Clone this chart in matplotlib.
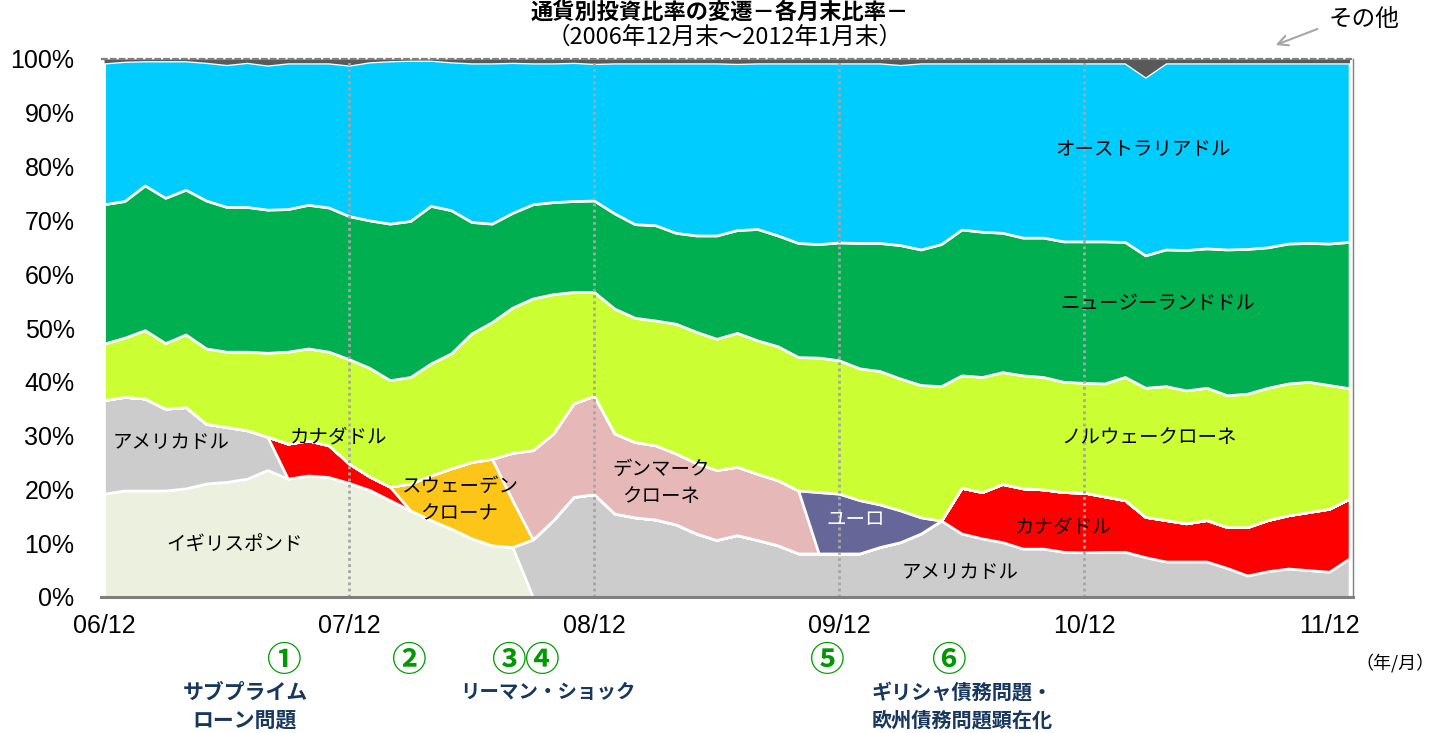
import numpy as np
import pandas as pd
import matplotlib
matplotlib.use('Agg')
import matplotlib.pyplot as plt

plt.rcParams['font.family'] = ['Noto Sans CJK JP', 'DejaVu Sans']

# ---------------- data (% of portfolio, month-end) ----------------
months = pd.date_range('2006-12-31', periods=62, freq='ME').strftime('%y/%m').tolist()
tick_labels = ['06/12', '07/12', '08/12', '09/12', '10/12', '11/12']
ytick_values = [0, 10, 20, 30, 40, 50, 60, 70, 80, 90, 100]

GBP = [19.2, 19.8, 19.8, 19.8, 20.2, 21.1, 21.4, 22.0, 23.6, 22.0,
       22.6, 22.3, 21.2, 19.9, 18.0, 16.1, 14.3, 12.7, 10.9, 9.6,
       9.3, 0, 0, 0, 0, 0, 0, 0, 0, 0,
       0, 0, 0, 0, 0, 0, 0, 0, 0, 0,
       0, 0, 0, 0, 0, 0, 0, 0, 0, 0,
       0, 0, 0, 0, 0, 0, 0, 0, 0, 0,
       0, 0]
USD = [17.4, 17.4, 17.1, 15.2, 15.1, 11.1, 10.2, 9.0, 6.2, 0,
       0, 0, 0, 0, 0, 0, 0, 0, 0, 0,
       0, 10.7, 14.3, 18.6, 19.1, 15.5, 14.8, 14.4, 13.5, 11.8,
       10.6, 11.5, 10.6, 9.6, 8.1, 8.1, 8.1, 8.1, 9.3, 10.2,
       11.8, 14.2, 11.8, 10.9, 10.2, 9.0, 9.0, 8.4, 8.3, 8.4,
       8.4, 7.4, 6.6, 6.6, 6.6, 5.4, 4.0, 4.8, 5.3, 5.0,
       4.7, 7.2]
CAD = [0, 0, 0, 0, 0, 0, 0, 0, 0, 6.5,
       6.5, 5.9, 3.6, 2.5, 2.5, 0, 0, 0, 0, 0,
       0, 0, 0, 0, 0, 0, 0, 0, 0, 0,
       0, 0, 0, 0, 0, 0, 0, 0, 0, 0,
       0, 0, 8.5, 8.6, 10.8, 11.2, 11.0, 11.1, 11.1, 10.3,
       9.6, 7.5, 7.7, 7.1, 7.7, 7.6, 9.0, 9.5, 9.9, 10.8,
       11.7, 11.1]
SEK = [0, 0, 0, 0, 0, 0, 0, 0, 0, 0,
       0, 0, 0, 0, 0, 5.0, 8.3, 11.2, 14.2, 16.1,
       8.7, 0, 0, 0, 0, 0, 0, 0, 0, 0,
       0, 0, 0, 0, 0, 0, 0, 0, 0, 0,
       0, 0, 0, 0, 0, 0, 0, 0, 0, 0,
       0, 0, 0, 0, 0, 0, 0, 0, 0, 0,
       0, 0]
DKK = [0, 0, 0, 0, 0, 0, 0, 0, 0, 0,
       0, 0, 0, 0, 0, 0, 0, 0, 0, 0,
       8.8, 16.6, 16.1, 17.4, 18.3, 14.9, 14.0, 13.8, 13.2, 13.1,
       13.0, 12.7, 12.3, 12.1, 11.7, 0, 0, 0, 0, 0,
       0, 0, 0, 0, 0, 0, 0, 0, 0, 0,
       0, 0, 0, 0, 0, 0, 0, 0, 0, 0,
       0, 0]
EUR = [0, 0, 0, 0, 0, 0, 0, 0, 0, 0,
       0, 0, 0, 0, 0, 0, 0, 0, 0, 0,
       0, 0, 0, 0, 0, 0, 0, 0, 0, 0,
       0, 0, 0, 0, 0, 11.4, 11.1, 9.9, 7.9, 5.9,
       3.0, 0, 0, 0, 0, 0, 0, 0, 0, 0,
       0, 0, 0, 0, 0, 0, 0, 0, 0, 0,
       0, 0]
NOK = [10.5, 11.0, 12.7, 12.2, 13.5, 14.0, 14.0, 14.6, 15.6, 17.1,
       17.1, 17.4, 19.4, 20.2, 19.8, 19.8, 20.8, 21.4, 23.9, 25.4,
       27.0, 28.2, 25.9, 20.7, 19.3, 23.2, 23.1, 23.2, 24.1, 24.4,
       24.4, 24.9, 24.8, 24.9, 24.8, 25.0, 24.8, 24.5, 24.8, 24.5,
       24.6, 25.0, 20.9, 21.4, 20.8, 21.0, 20.9, 20.5, 20.4, 21.0,
       22.9, 24.0, 24.9, 24.7, 24.6, 24.5, 24.8, 24.6, 24.5, 24.2,
       23.0, 20.5]
NZD = [25.9, 25.4, 26.9, 27.0, 26.9, 27.5, 26.9, 26.9, 26.6, 26.5,
       26.7, 26.8, 26.6, 27.4, 29.1, 29.0, 29.3, 26.6, 20.7, 18.3,
       17.6, 17.5, 17.1, 16.9, 17.0, 17.7, 17.4, 17.7, 16.9, 17.9,
       19.2, 19.1, 20.7, 20.6, 21.2, 21.1, 21.9, 23.3, 23.8, 24.8,
       25.2, 26.4, 27.1, 27.0, 25.9, 25.6, 25.9, 26.1, 26.3, 26.4,
       25.1, 24.6, 25.4, 26.1, 25.9, 27.1, 26.9, 26.1, 26.0, 25.8,
       26.3, 27.2]
AUD = [26.3, 26.0, 23.2, 25.5, 24.0, 25.7, 26.5, 26.9, 26.9, 27.2,
       26.4, 26.9, 28.1, 29.5, 30.3, 29.9, 27.1, 27.6, 29.6, 29.9,
       28.0, 26.3, 25.9, 25.8, 25.5, 28.0, 30.0, 30.2, 31.6, 32.1,
       32.1, 31.0, 30.9, 32.1, 33.5, 33.7, 33.4, 33.5, 33.5, 33.6,
       34.7, 33.7, 31.0, 31.4, 31.6, 32.5, 32.5, 33.2, 33.2, 33.2,
       33.3, 33.2, 34.7, 34.8, 34.5, 34.7, 34.6, 34.3, 33.6, 33.5,
       33.6, 33.3]
OTH = [0.7, 0.4, 0.3, 0.3, 0.3, 0.6, 1.0, 0.6, 1.1, 0.7,
       0.7, 0.7, 1.1, 0.5, 0.3, 0.2, 0.2, 0.5, 0.7, 0.7,
       0.6, 0.7, 0.7, 0.6, 0.8, 0.7, 0.7, 0.7, 0.7, 0.7,
       0.7, 0.8, 0.7, 0.7, 0.7, 0.7, 0.7, 0.7, 0.7, 1.0,
       0.7, 0.7, 0.7, 0.7, 0.7, 0.7, 0.7, 0.7, 0.7, 0.7,
       0.7, 3.3, 0.7, 0.7, 0.7, 0.7, 0.7, 0.7, 0.7, 0.7,
       0.7, 0.7]

colors = ['#EBF1DE', '#CCCCCC', '#FF0000', '#FCC518', '#E6B9B8',
          '#666699', '#CCFF33', '#00B050', '#00CCFF', '#595959']

# ---------------- figure ----------------
W, H = 1447, 733
fig = plt.figure(figsize=(W / 100, H / 100), dpi=100)

def fx(px):
    return px / W

def fy(py):
    return 1 - py / H

ax = fig.add_axes([fx(101), fy(597), fx(1353) - fx(101), fy(59) - fy(597)])
x = np.arange(len(months))

polys = ax.stackplot(x, GBP, USD, CAD, SEK, DKK, EUR, NOK, NZD, AUD, OTH,
                     colors=colors, edgecolor='white', linewidth=1.9, zorder=2)
polys[-1].set_linewidth(0)

ax.set_xlim(-0.15, 61.17)
ax.set_ylim(0, 100)

# dotted year gridlines
for t in tick_labels[1:5]:
    ax.axvline(months.index(t), color='#A6A6A6', lw=2.0,
               linestyle=(0, (1, 1.2)), zorder=3)
# top dashed line
ax.axhline(100, color='#7F7F7F', lw=1.6, linestyle=(0, (3, 1)), zorder=4,
           clip_on=False)

for s in ['left', 'top']:
    ax.spines[s].set_visible(False)
ax.spines['bottom'].set_color('#7F7F7F')
ax.spines['bottom'].set_linewidth(2.2)
ax.spines['bottom'].set_zorder(5)
ax.spines['right'].set_color('#7F7F7F')
ax.spines['right'].set_linewidth(1.0)

ax.set_xticks([months.index(t) for t in tick_labels])
ax.set_xticklabels(tick_labels, family='Liberation Sans', fontsize=18)
ax.tick_params(axis='x', direction='in', length=5, color='#7F7F7F', pad=12)
ax.set_yticks(ytick_values)
ax.set_yticklabels([f'{v}%' for v in ytick_values], family='Liberation Sans',
                   fontsize=18)
ax.tick_params(axis='y', length=0, pad=19)

# ---------------- area labels ----------------
lab = dict(fontsize=14, zorder=6)
ax.text(50.9, 83.1, 'オーストラリアドル', ha='center', va='center', **lab)
ax.text(51.6, 54.6, 'ニュージーランドドル', ha='center', va='center', **lab)
ax.text(51.2, 29.7, 'ノルウェークローネ', ha='center', va='center', **lab)
ax.text(49.4, 13.0, 'カナダドル', ha='right', va='center', **lab)
ax.text(44.8, 4.6, 'アメリカドル', ha='right', va='center', **lab)
ax.text(36.8, 14.3, 'ユーロ', ha='center', va='center', color='white', **lab)
ax.text(27.3, 21.2, 'デンマーク\nクローネ', ha='center', va='center',
        linespacing=1.4, **lab)
ax.text(17.4, 18.0, 'スウェーデン\nクローナ', ha='center', va='center',
        linespacing=1.35, **lab)
ax.text(11.5, 29.7, 'カナダドル', ha='center', va='center', **lab)
ax.text(3.3, 28.8, 'アメリカドル', ha='center', va='center', **lab)
ax.text(6.4, 9.7, 'イギリスポンド', ha='center', va='center', **lab)

# ---------------- titles ----------------
fig.text(fx(720), fy(12), '通貨別投資比率の変遷－各月末比率－', ha='center',
         va='center', fontsize=16, fontweight='bold')
fig.text(fx(725), fy(37), '（2006年12月末～2012年1月末）', ha='center',
         va='center', fontsize=17)

# その他 annotation
fig.text(fx(1364), fy(20), 'その他', ha='center', va='center', fontsize=17)
ax.annotate('', xy=(fx(1273), fy(46)), xycoords='figure fraction',
            xytext=(fx(1320), fy(28)), textcoords='figure fraction',
            arrowprops=dict(arrowstyle='->', color='#A6A6A6', lw=1.5,
                            mutation_scale=18))

# ---------------- events below the axis ----------------
green = '#009900'
navy = '#17375E'
for s, px in [('①', 283), ('②', 408), ('③', 508), ('④', 541), ('⑤', 826), ('⑥', 948)]:
    fig.text(fx(px), fy(660), s, ha='center', va='center', fontsize=25,
             color=green, fontweight='bold')
fig.text(fx(245), fy(706), 'サブプライム\nローン問題', ha='center', va='center',
         fontsize=15, fontweight='bold', color=navy, linespacing=1.35)
fig.text(fx(548), fy(692), 'リーマン・ショック', ha='center', va='center',
         fontsize=14, fontweight='bold', color=navy)
fig.text(fx(962), fy(706), 'ギリシャ債務問題・\n欧州債務問題顕在化', ha='center',
         va='center', fontsize=14.5, fontweight='bold', color=navy, linespacing=1.35)
fig.text(fx(1395), fy(663), '（年/月）', ha='center', va='center', fontsize=13)

fig.savefig('out.png', dpi=100)
